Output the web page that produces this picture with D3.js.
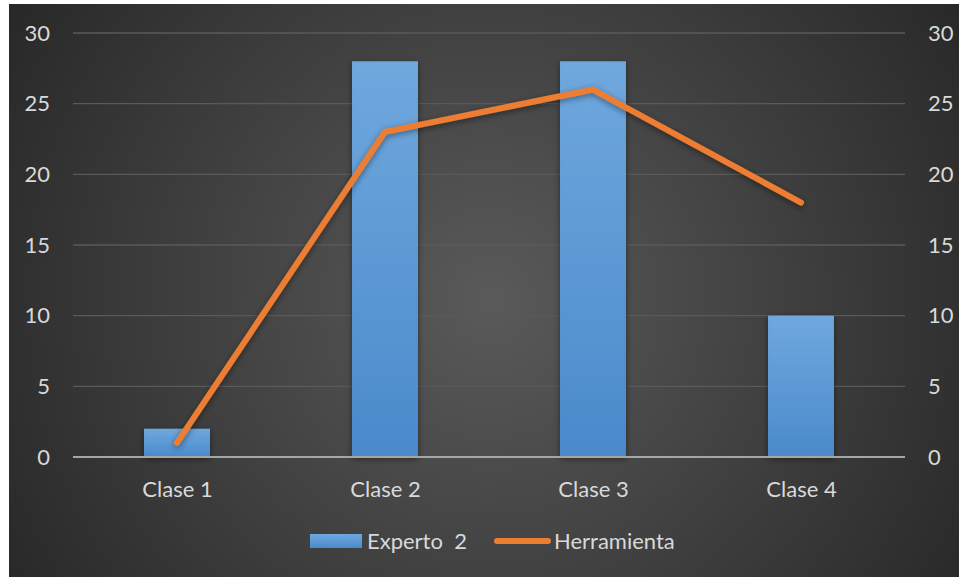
<!DOCTYPE html>
<html>
<head>
<meta charset="utf-8">
<style>
    body { margin: 0; padding: 0; background: white; overflow: hidden; }
    .tick text { font-family: Lato, "Open Sans", sans-serif; }
</style>
</head>
<body>
<script src="https://d3js.org/d3.v7.min.js"></script>
<script>
var categories = ["Clase 1", "Clase 2", "Clase 3", "Clase 4"];
var experto = [2, 28, 28, 10];
var herramienta = [1, 23, 26, 18];
var yTicks = [0, 5, 10, 15, 20, 25, 30];

var W = 959, H = 577;
var margin = { top: 33, right: 54, bottom: 120, left: 73 },
    width = W - margin.left - margin.right,
    height = H - margin.top - margin.bottom;

var svg = d3.select("body").append("svg")
    .attr("width", W)
    .attr("height", H);

var defs = svg.append("defs");

var bg = defs.append("radialGradient")
    .attr("id", "bg")
    .attr("gradientUnits", "userSpaceOnUse")
    .attr("cx", 490).attr("cy", 300).attr("r", 620);
bg.append("stop").attr("offset", "0%").attr("stop-color", "#5a5a5a");
bg.append("stop").attr("offset", "100%").attr("stop-color", "#232323");

var barGrad = defs.append("linearGradient")
    .attr("id", "barGrad")
    .attr("x1", 0).attr("y1", 0).attr("x2", 0).attr("y2", 1);
barGrad.append("stop").attr("offset", "0%").attr("stop-color", "#6fa8de");
barGrad.append("stop").attr("offset", "100%").attr("stop-color", "#4a8acb");

var shadow = defs.append("filter")
    .attr("id", "shadow")
    .attr("x", "-20%").attr("y", "-20%").attr("width", "140%").attr("height", "140%");
shadow.append("feDropShadow")
    .attr("dx", 0).attr("dy", 2)
    .attr("stdDeviation", 3)
    .attr("flood-color", "#000")
    .attr("flood-opacity", 0.45);

// chart background, leaving the white strip at top/left
svg.append("rect")
    .attr("x", 9).attr("y", 4)
    .attr("width", W - 9).attr("height", H - 4)
    .attr("fill", "url(#bg)");

var g = svg.append("g")
    .attr("transform", "translate(" + margin.left + "," + margin.top + ")");

var x = d3.scaleBand()
    .domain(categories)
    .range([0, width])
    .paddingInner(0.683)
    .paddingOuter(0.3415);

var xc = d3.scalePoint()
    .domain(categories)
    .range([0, width])
    .padding(0.5);

var y = d3.scaleLinear()
    .domain([0, 30])
    .range([height, 0]);

// gridlines
g.append("g")
    .selectAll("line")
    .data(yTicks.slice(1))
    .join("line")
    .attr("x1", 0).attr("x2", width)
    .attr("y1", d => y(d)).attr("y2", d => y(d))
    .attr("stroke", "#5a5a5a")
    .attr("stroke-width", 1.3);

// bars
g.append("g")
    .selectAll("rect")
    .data(experto)
    .join("rect")
    .attr("x", (d, i) => x(categories[i]))
    .attr("y", d => y(d))
    .attr("width", x.bandwidth())
    .attr("height", d => height - y(d))
    .attr("fill", "url(#barGrad)")
    .attr("filter", "url(#shadow)");

// baseline
g.append("line")
    .attr("x1", 0).attr("x2", width)
    .attr("y1", height).attr("y2", height)
    .attr("stroke", "#a6a6a6")
    .attr("stroke-width", 2);

// line
var line = d3.line()
    .x((d, i) => xc(categories[i]))
    .y(d => y(d));

g.append("path")
    .datum(herramienta)
    .attr("d", line)
    .attr("fill", "none")
    .attr("stroke", "#ed7d31")
    .attr("stroke-width", 6)
    .attr("stroke-linecap", "round")
    .attr("stroke-linejoin", "round")
    .attr("filter", "url(#shadow)");

// axes
var yLeft = g.append("g")
    .call(d3.axisLeft(y).tickValues(yTicks).tickSize(0).tickPadding(23));
var yRight = g.append("g")
    .attr("transform", "translate(" + width + ",0)")
    .call(d3.axisRight(y).tickValues(yTicks).tickSize(0).tickPadding(23));
var xAxis = g.append("g")
    .attr("transform", "translate(0," + height + ")")
    .call(d3.axisBottom(xc).tickSize(0).tickPadding(24));

[yLeft, yRight, xAxis].forEach(function(a) {
    a.select(".domain").remove();
    a.selectAll("text")
        .attr("fill", "#d9d9d9")
        .style("font-size", "22px");
});

// legend
var legend = svg.append("g")
    .attr("transform", "translate(0,541)")
    .style("font-family", "Lato, 'Open Sans', sans-serif")
    .style("font-size", "22px")
    .attr("fill", "#d9d9d9");

legend.append("rect")
    .attr("x", 310).attr("y", -7)
    .attr("width", 52).attr("height", 14)
    .attr("fill", "url(#barGrad)");
legend.append("text")
    .attr("x", 367).attr("y", 0).attr("dy", "0.35em")
    .attr("xml:space", "preserve")
    .text("Experto  2");

legend.append("line")
    .attr("x1", 497).attr("x2", 548)
    .attr("y1", 0).attr("y2", 0)
    .attr("stroke", "#ed7d31")
    .attr("stroke-width", 6)
    .attr("stroke-linecap", "round");
legend.append("text")
    .attr("x", 554).attr("y", 0).attr("dy", "0.35em")
    .text("Herramienta");
</script>
</body>
</html>
